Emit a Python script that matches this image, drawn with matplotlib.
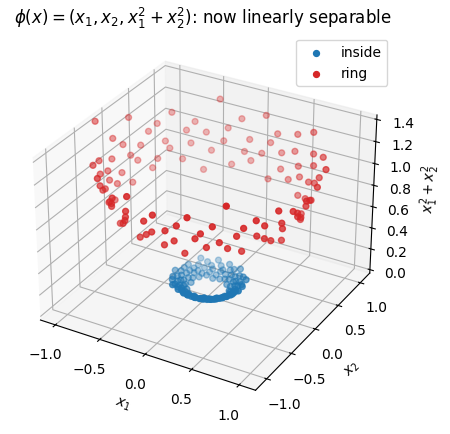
import numpy as np
import matplotlib
matplotlib.use("Agg")
import matplotlib.pyplot as plt

# 外圈点（极坐标读数：角度/半径）
ring_angle = [2, 5, 9, 12, 14, 18, 21, 24, 27, 31,
              33, 36, 40, 43, 45, 48, 52, 55, 57, 61,
              64, 66, 70, 73, 77, 79, 82, 86, 88, 92,
              95, 97, 101, 104, 108, 110, 113, 117, 120, 122,
              126, 129, 131, 135, 138, 142, 144, 147, 151, 153,
              156, 160, 163, 165, 169, 172, 175, 178, 181, 185,
              187, 190, 194, 197, 199, 203, 206, 210, 212, 215,
              219, 221, 224, 228, 231, 233, 237, 240, 243, 246,
              249, 252, 255, 258, 262, 264, 267, 271, 273, 276,
              280, 283, 285, 289, 292, 295, 298, 301, 305, 307,
              310, 314, 317, 319, 323, 326, 329, 332, 335, 338,
              341, 344, 347, 350, 353, 356, 358]
ring_radius = [1.02, 0.95, 1.08, 0.91, 1.00, 1.12, 0.97, 0.89, 1.05, 1.01,
               0.93, 1.10, 0.98, 1.04, 0.90, 1.07, 0.96, 1.13, 0.99, 0.92,
               1.03, 1.09, 0.94, 1.00, 0.88, 1.06, 1.02, 0.97, 1.11, 0.93,
               1.01, 0.96, 1.08, 0.90, 1.04, 0.99, 1.14, 0.95, 1.02, 0.87,
               1.06, 0.98, 1.03, 0.92, 1.10, 0.97, 1.00, 1.07, 0.94, 1.05,
               0.91, 1.01, 1.12, 0.96, 0.99, 1.04, 0.89, 1.08, 0.95, 1.02,
               1.17, 0.93, 1.00, 0.97, 1.06, 0.90, 1.03, 0.98, 1.09, 0.94,
               1.01, 0.96, 1.05, 0.88, 1.11, 0.99, 1.02, 0.93, 1.07, 0.97,
               1.00, 1.04, 0.91, 1.13, 0.95, 1.03, 0.98, 1.08, 0.92, 1.01,
               0.96, 1.05, 0.89, 1.10, 0.99, 1.02, 0.94, 1.06, 0.97, 1.16,
               0.93, 1.00, 1.04, 0.90, 1.07, 0.98, 1.03, 0.95, 1.09, 0.92,
               1.01, 0.97, 1.05, 0.88, 1.02, 0.99, 1.06]

# 内部点
inside_angle = [3, 7, 10, 14, 17, 20, 24, 27, 30, 34,
                37, 40, 44, 47, 50, 53, 57, 60, 63, 67,
                70, 73, 76, 80, 83, 86, 90, 93, 96, 100,
                103, 106, 110, 113, 116, 120, 123, 126, 130, 133,
                136, 140, 143, 146, 150, 153, 156, 160, 163, 166,
                170, 173, 176, 180, 183, 186, 190, 193, 196, 200,
                203, 206, 210, 213, 216, 220, 223, 226, 230, 233,
                236, 240, 243, 246, 250, 253, 256, 260, 263, 266,
                270, 273, 276, 280, 283, 286, 290, 293, 296, 300,
                303, 306, 310, 313, 316, 320, 323, 326, 330, 333,
                336, 340, 343, 346, 350, 353, 356, 359]
inside_radius = [0.30, 0.23, 0.35, 0.27, 0.21, 0.33, 0.29, 0.37, 0.26, 0.31,
                 0.22, 0.35, 0.28, 0.26, 0.33, 0.20, 0.30, 0.37, 0.25, 0.29,
                 0.34, 0.23, 0.32, 0.27, 0.36, 0.21, 0.30, 0.28, 0.33, 0.24,
                 0.37, 0.20, 0.29, 0.32, 0.26, 0.35, 0.23, 0.30, 0.38, 0.25,
                 0.33, 0.28, 0.22, 0.31, 0.27, 0.35, 0.30, 0.23, 0.34, 0.29,
                 0.25, 0.33, 0.20, 0.30, 0.36, 0.26, 0.32, 0.28, 0.23, 0.35,
                 0.30, 0.24, 0.35, 0.28, 0.21, 0.33, 0.27, 0.31, 0.37, 0.25,
                 0.29, 0.34, 0.23, 0.30, 0.26, 0.33, 0.20, 0.32, 0.28, 0.36,
                 0.25, 0.30, 0.35, 0.26, 0.22, 0.32, 0.29, 0.37, 0.24, 0.33,
                 0.30, 0.23, 0.28, 0.35, 0.26, 0.31, 0.19, 0.30, 0.35, 0.25,
                 0.29, 0.33, 0.23, 0.32, 0.27, 0.36, 0.30, 0.28]

# 刻度
xy_ticks = [-1.0, -0.5, 0.0, 0.5, 1.0]
z_ticks = [0.0, 0.2, 0.4, 0.6, 0.8, 1.0, 1.2, 1.4]


def to_xy(angle, radius):
    a = np.deg2rad(np.array(angle))
    r = np.array(radius)
    return r * np.cos(a), r * np.sin(a)


in_x1, in_x2 = to_xy(inside_angle, inside_radius)
ring_x1, ring_x2 = to_xy(ring_angle, ring_radius)

fig = plt.figure(figsize=(4.5, 4.35), dpi=100)
ax = fig.add_subplot(111, projection="3d")
ax.set_position([0.0256, 0.045, 0.851, 0.88])
ax.scatter(in_x1, in_x2, in_x1**2 + in_x2**2, c="tab:blue", s=18, label="inside")
ax.scatter(ring_x1, ring_x2, ring_x1**2 + ring_x2**2, c="tab:red", s=18, label="ring")
ax.set_xlim(-1.17, 1.17)
ax.set_ylim(-1.22, 1.22)
ax.set_zlim(-0.033, 1.44)
ax.set_xticks(xy_ticks)
ax.set_yticks(xy_ticks)
ax.set_zticks(z_ticks)
ax.set_xlabel("$x_1$")
ax.set_ylabel("$x_2$")
ax.set_zlabel("$x_1^2+x_2^2$")
ax.set_title("$\\phi(x) = (x_1, x_2, x_1^2+x_2^2)$: now linearly separable", pad=6)
ax.legend(loc="upper right", bbox_to_anchor=(1.0, 0.997))
fig.savefig("out.png", dpi=100)
